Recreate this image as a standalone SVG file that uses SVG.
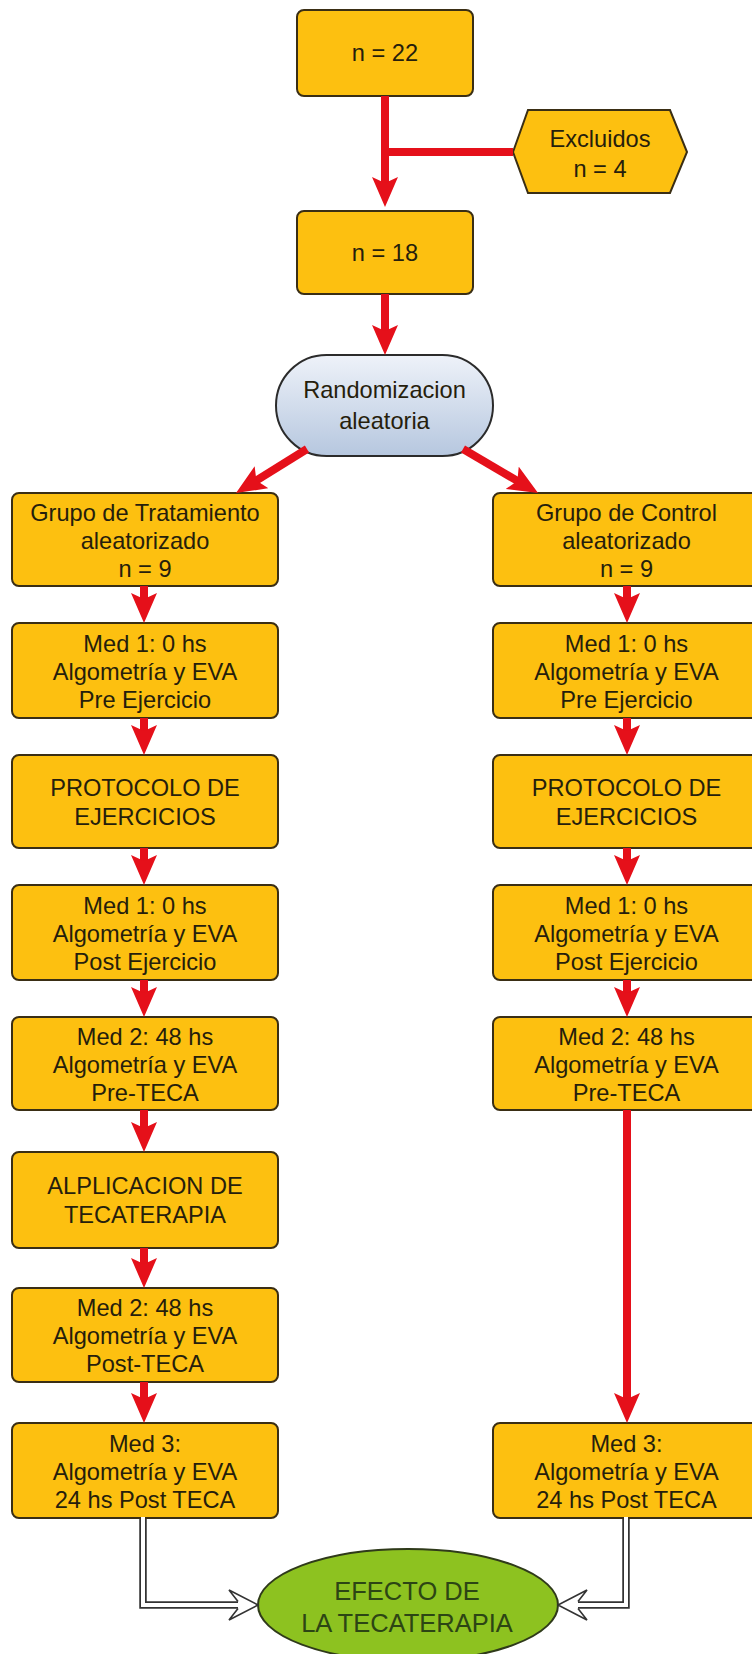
<svg xmlns="http://www.w3.org/2000/svg" width="752" height="1654" viewBox="0 0 752 1654">
<style>
.box{fill:#fdc010;stroke:#3a2e14;stroke-width:2}
.t{font-family:"Liberation Sans",Arial,sans-serif;font-size:23.6px;fill:#261e0c;text-anchor:middle}
.te{font-family:"Liberation Sans",Arial,sans-serif;font-size:25.5px;fill:#2c4514;text-anchor:middle}
.red{fill:none;stroke:#e5101a;stroke-width:8}
.dblo{fill:none;stroke:#333;stroke-width:7.5}
.dbli{fill:none;stroke:#fff;stroke-width:4}
.open{fill:#fff;stroke:#333;stroke-width:1.6;stroke-linejoin:miter}
</style>
<defs>
<linearGradient id="blue" x1="0" y1="0" x2="0" y2="1">
<stop offset="0" stop-color="#eef2f9"/>
<stop offset="1" stop-color="#b6c7df"/>
</linearGradient>
<marker id="ah" viewBox="0 0 30 26" refX="10" refY="13" markerWidth="30" markerHeight="26" markerUnits="userSpaceOnUse" orient="auto">
<path d="M0,0 L30,13 L0,26 L6,13 Z" fill="#e5101a"/>
</marker>
</defs>
<rect width="752" height="1654" fill="#fff"/>

<g id="n22"><rect class="box" x="297" y="10" width="176" height="86" rx="7"/><text class="t" x="385" y="61">n = 22</text></g>
<g id="excluidos"><polygon class="box" points="513,152 528,110 670,110 687,152 670,193 528,193"/><text class="t" x="600" y="147">Excluidos</text><text class="t" x="600" y="177">n = 4</text></g>
<g id="n18"><rect class="box" x="297" y="211" width="176" height="83" rx="7"/><text class="t" x="385" y="261">n = 18</text></g>
<g id="rand"><rect x="276" y="355" width="217" height="101" rx="50.5" fill="url(#blue)" stroke="#2b2b2b" stroke-width="2"/><text class="t" x="384.5" y="398">Randomizacion</text><text class="t" x="384.5" y="429">aleatoria</text></g>

<g id="t1"><rect class="box" x="12" y="493" width="266" height="93" rx="7"/><text class="t" x="145" y="520.5">Grupo de Tratamiento</text><text class="t" x="145" y="548.5">aleatorizado</text><text class="t" x="145" y="576.5">n = 9</text></g>
<g id="t2"><rect class="box" x="12" y="623" width="266" height="95" rx="7"/><text class="t" x="145" y="651.5">Med 1: 0 hs</text><text class="t" x="145" y="679.5">Algometría y EVA</text><text class="t" x="145" y="707.5">Pre Ejercicio</text></g>
<g id="t3"><rect class="box" x="12" y="755" width="266" height="93" rx="7"/><text class="t" x="145" y="795.5">PROTOCOLO DE</text><text class="t" x="145" y="824.5">EJERCICIOS</text></g>
<g id="t4"><rect class="box" x="12" y="885" width="266" height="95" rx="7"/><text class="t" x="145" y="913.5">Med 1: 0 hs</text><text class="t" x="145" y="941.5">Algometría y EVA</text><text class="t" x="145" y="969.5">Post Ejercicio</text></g>
<g id="t5"><rect class="box" x="12" y="1017" width="266" height="93" rx="7"/><text class="t" x="145" y="1044.5">Med 2: 48 hs</text><text class="t" x="145" y="1072.5">Algometría y EVA</text><text class="t" x="145" y="1100.5">Pre-TECA</text></g>
<g id="t6"><rect class="box" x="12" y="1152" width="266" height="96" rx="7"/><text class="t" x="145" y="1194">ALPLICACION DE</text><text class="t" x="145" y="1223">TECATERAPIA</text></g>
<g id="t7"><rect class="box" x="12" y="1288" width="266" height="94" rx="7"/><text class="t" x="145" y="1316">Med 2: 48 hs</text><text class="t" x="145" y="1344">Algometría y EVA</text><text class="t" x="145" y="1372">Post-TECA</text></g>
<g id="t8"><rect class="box" x="12" y="1423" width="266" height="95" rx="7"/><text class="t" x="145" y="1451.5">Med 3:</text><text class="t" x="145" y="1479.5">Algometría y EVA</text><text class="t" x="145" y="1507.5">24 hs Post TECA</text></g>

<g id="c1"><rect class="box" x="493" y="493" width="267" height="93" rx="7"/><text class="t" x="626.5" y="520.5">Grupo de Control</text><text class="t" x="626.5" y="548.5">aleatorizado</text><text class="t" x="626.5" y="576.5">n = 9</text></g>
<g id="c2"><rect class="box" x="493" y="623" width="267" height="95" rx="7"/><text class="t" x="626.5" y="651.5">Med 1: 0 hs</text><text class="t" x="626.5" y="679.5">Algometría y EVA</text><text class="t" x="626.5" y="707.5">Pre Ejercicio</text></g>
<g id="c3"><rect class="box" x="493" y="755" width="267" height="93" rx="7"/><text class="t" x="626.5" y="795.5">PROTOCOLO DE</text><text class="t" x="626.5" y="824.5">EJERCICIOS</text></g>
<g id="c4"><rect class="box" x="493" y="885" width="267" height="95" rx="7"/><text class="t" x="626.5" y="913.5">Med 1: 0 hs</text><text class="t" x="626.5" y="941.5">Algometría y EVA</text><text class="t" x="626.5" y="969.5">Post Ejercicio</text></g>
<g id="c5"><rect class="box" x="493" y="1017" width="267" height="93" rx="7"/><text class="t" x="626.5" y="1044.5">Med 2: 48 hs</text><text class="t" x="626.5" y="1072.5">Algometría y EVA</text><text class="t" x="626.5" y="1100.5">Pre-TECA</text></g>
<g id="c8"><rect class="box" x="493" y="1423" width="267" height="95" rx="7"/><text class="t" x="626.5" y="1451.5">Med 3:</text><text class="t" x="626.5" y="1479.5">Algometría y EVA</text><text class="t" x="626.5" y="1507.5">24 hs Post TECA</text></g>

<g id="efecto"><ellipse cx="408" cy="1605" rx="150" ry="56" fill="#8dc220" stroke="#2f3a1a" stroke-width="2"/><text class="te" x="407" y="1600">EFECTO DE</text><text class="te" x="407" y="1632">LA TECATERAPIA</text></g>

<g id="connectors">
<path class="red" d="M513,152 L381,152"/>
<path class="red" d="M385,96 L385,187" marker-end="url(#ah)"/>
<path class="red" d="M385,294 L385,335" marker-end="url(#ah)"/>
<path class="red" d="M307,449 L253,482.5" marker-end="url(#ah)"/>
<path class="red" d="M463,449 L520.8,482.9" marker-end="url(#ah)"/>
<path class="red" d="M144,586 L144,603" marker-end="url(#ah)"/>
<path class="red" d="M144,718 L144,735" marker-end="url(#ah)"/>
<path class="red" d="M144,848 L144,865" marker-end="url(#ah)"/>
<path class="red" d="M144,980 L144,997" marker-end="url(#ah)"/>
<path class="red" d="M144,1110 L144,1132" marker-end="url(#ah)"/>
<path class="red" d="M144,1248 L144,1268" marker-end="url(#ah)"/>
<path class="red" d="M144,1382 L144,1403" marker-end="url(#ah)"/>
<path class="red" d="M627,586 L627,603" marker-end="url(#ah)"/>
<path class="red" d="M627,718 L627,735" marker-end="url(#ah)"/>
<path class="red" d="M627,848 L627,865" marker-end="url(#ah)"/>
<path class="red" d="M627,980 L627,997" marker-end="url(#ah)"/>
<path class="red" d="M627,1110 L627,1403" marker-end="url(#ah)"/>
<path class="dblo" d="M143,1519 L143,1605 L238,1605"/>
<path class="dbli" d="M143,1517 L143,1605 L239,1605"/>
<path class="open" d="M238,1601.5 L229,1590 L258,1605 L229,1620 L238,1608.5"/>
<path class="dblo" d="M626,1519 L626,1605 L578,1605"/>
<path class="dbli" d="M626,1517 L626,1605 L577,1605"/>
<path class="open" d="M578,1601.5 L587,1590 L558,1605 L587,1620 L578,1608.5"/>
</g>
</svg>
